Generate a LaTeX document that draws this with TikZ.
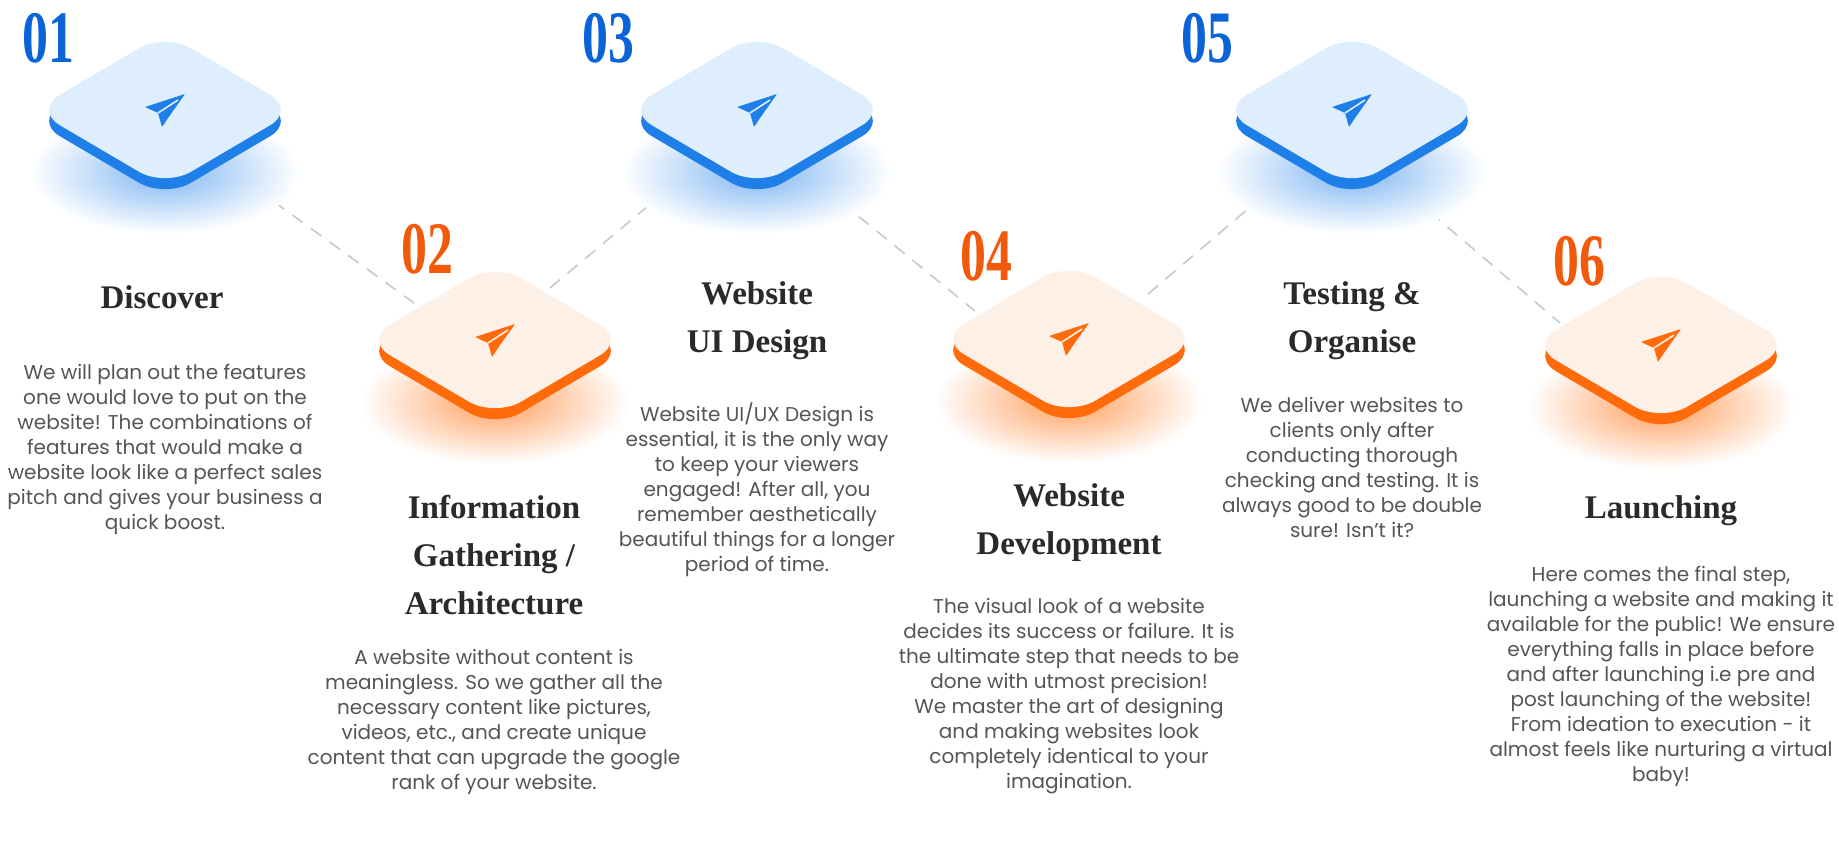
\documentclass[tikz,border=0pt]{standalone}
\usepackage{fontspec}
\setmainfont{Poppins}
\newfontfamily\titlefont{Liberation Serif}
\newfontfamily\numfont[FakeStretch=0.7]{Liberation Serif}
\definecolor{bodygray}{HTML}{555555}
\definecolor{titlegray}{HTML}{2A2A2A}
\definecolor{bEdge}{HTML}{1E7FE8}
\definecolor{bFace}{HTML}{DFEEFD}
\definecolor{bGlow}{HTML}{7DB5F3}
\definecolor{bNum}{HTML}{0A64D8}
\definecolor{oEdge}{HTML}{FF6A0A}
\definecolor{oFace}{HTML}{FDF0E7}
\definecolor{oGlow}{HTML}{FF9F5E}
\definecolor{oNum}{HTML}{F05A0A}
\definecolor{dashgray}{HTML}{C5CACF}
\newcommand\stepdia[5]{%
  \coordinate (#1) at (#2,#3);
  \shade[inner color=#5, outer color=white] ([shift={(0,62)}]#1) ellipse (135 and 62);
  \fill[#4Edge, rounded corners=30pt] ([shift={(-131,11)}]#1) -- ([shift={(0,-66)}]#1) -- ([shift={(131,11)}]#1) -- ([shift={(0,88)}]#1) -- cycle;
  \fill[#4Face, rounded corners=30pt] ([shift={(-131,0)}]#1) -- ([shift={(0,-77)}]#1) -- ([shift={(131,0)}]#1) -- ([shift={(0,77)}]#1) -- cycle;
  \fill[#4Edge, rounded corners=0.8pt] ([shift={(20,-16)}]#1) -- ([shift={(-20,-3)}]#1) -- ([shift={(-7,3)}]#1) -- ([shift={(-3,17)}]#1) -- ([shift={(3,8)}]#1) -- cycle;
  \draw[#4Face, line width=1.6pt] ([shift={(-7,3)}]#1) -- ([shift={(13,-10)}]#1);
}
\tikzset{
  body/.style={align=center, text=bodygray, font=\fontsize{20}{25}\selectfont},
  ttl/.style={align=center, text=titlegray, font=\titlefont\bfseries\fontsize{33}{48}\selectfont},
  num/.style={font=\numfont\bfseries\fontsize{74}{74}\selectfont},
  conn/.style={dashgray, line width=1.6pt, dash pattern=on 13pt off 10pt}
}
\begin{document}
\begin{tikzpicture}[x=1pt,y=-1pt]
\fill[white] (0,0) rectangle (1839,853);
\useasboundingbox (0,0) rectangle (1839,853);
% connectors
\coordinate (a1) at (255,188); \coordinate (a2) at (414,303);
\coordinate (b1) at (550,288); \coordinate (b2) at (660,196);
\coordinate (c1) at (841,202); \coordinate (c2) at (975,311);
\coordinate (d1) at (1148,294); \coordinate (d2) at (1255,203);
\coordinate (e1) at (1430,212); \coordinate (e2) at (1560,323);
\draw[conn] (a1) -- (a2);
\draw[conn] (b1) -- (b2);
\draw[conn] (c1) -- (c2);
\draw[conn] (d1) -- (d2);
\draw[conn] (e1) -- (e2);
% diamonds
\stepdia{s1}{165}{110}{b}{bGlow}
\stepdia{s3}{757}{110}{b}{bGlow}
\stepdia{s5}{1352}{110}{b}{bGlow}
\stepdia{s2}{495}{340}{o}{oGlow}
\stepdia{s4}{1069}{339}{o}{oGlow}
\stepdia{s6}{1661}{345}{o}{oGlow}
% numbers
\node[num, text=bNum] (n1) at (48,38) {01};
\node[num, text=bNum] (n3) at (608,38) {03};
\node[num, text=bNum] (n5) at (1207,38) {05};
\node[num, text=oNum] (n2) at (427,249) {02};
\node[num, text=oNum] (n4) at (986,256) {04};
\node[num, text=oNum] (n6) at (1579,261) {06};
% titles
\node[ttl] (t1) at (162,297) {Discover};
\node[ttl] (t2) at (494,555) {Information\\Gathering /\\Architecture};
\node[ttl] (t3) at (757,321) {Website\\UI Design};
\node[ttl] (t4) at (1069,523) {Website\\Development};
\node[ttl] (t5) at (1352,321) {Testing \&\\Organise};
\node[ttl] (t6) at (1661,511) {Launching};
% bodies
\node[body] (b1t) at (165,449) {We will plan out the features\\one would love to put on the\\website! The combinations of\\features that would make a\\website look like a perfect sales\\pitch and gives your business a\\quick boost.};
\node[body] (b2t) at (494,722) {A website without content is\\meaningless. So we gather all the\\necessary content like pictures,\\videos, etc., and create unique\\content that can upgrade the google\\rank of your website.};
\node[body] (b3t) at (757,490) {Website UI/UX Design is\\essential, it is the only way\\to keep your viewers\\engaged! After all, you\\remember aesthetically\\beautiful things for a longer\\period of time.};
\node[body] (b4t) at (1069,696) {The visual look of a website\\decides its success or failure. It is\\the ultimate step that needs to be\\done with utmost precision!\\We master the art of designing\\and making websites look\\completely identical to your\\imagination.};
\node[body] (b5t) at (1352,467) {We deliver websites to\\clients only after\\conducting thorough\\checking and testing. It is\\always good to be double\\sure! Isn't it?};
\node[body] (b6t) at (1661,676) {Here comes the final step,\\launching a website and making it\\available for the public! We ensure\\everything falls in place before\\and after launching i.e pre and\\post launching of the website!\\From ideation to execution - it\\almost feels like nurturing a virtual\\baby!};
\end{tikzpicture}
\end{document}
